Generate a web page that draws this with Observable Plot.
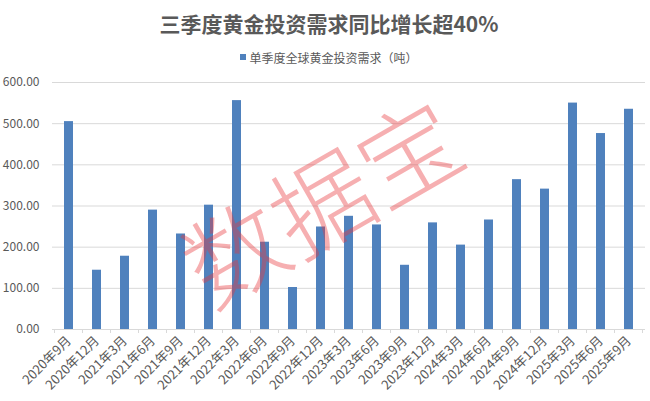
<!DOCTYPE html>
<html>
<head>
<meta charset="utf-8">
<script src="https://cdn.jsdelivr.net/npm/d3@7"></script>
<script src="https://cdn.jsdelivr.net/npm/@observablehq/plot@0.6"></script>
<style>
  body { margin: 0; background: #fff; font-family: "Noto Sans CJK SC", "Microsoft YaHei", sans-serif; }
  #wrap { width: 650px; }
  #title { height: 46px; line-height: 46px; text-align: center; font-size: 21px; font-weight: bold; color: #595959; padding-left: 8px; box-sizing: border-box; white-space: nowrap; }
  #legend { height: 22px; display: flex; justify-content: center; align-items: center; padding-left: 8px; box-sizing: border-box; font-size: 12px; color: #595959; }
  #legend .sw { width: 6px; height: 6px; background: #4f81bd; margin-right: 3px; }
  svg { display: block; }
</style>
</head>
<body>
<div id="wrap">
  <div id="title"></div>
  <div id="legend"><span class="sw"></span><span id="legendText"></span></div>
  <div id="chart"></div>
</div>
<script>
const titleText = "三季度黄金投资需求同比增长超40%";
const seriesName = "单季度全球黄金投资需求（吨）";
const watermark = "数据宝";
const categories = ["2020年9月","2020年12月","2021年3月","2021年6月","2021年9月","2021年12月","2022年3月","2022年6月","2022年9月","2022年12月","2023年3月","2023年6月","2023年9月","2023年12月","2024年3月","2024年6月","2024年9月","2024年12月","2025年3月","2025年6月","2025年9月"];
const values = [505, 144, 178, 290, 232, 302, 556, 212, 102, 249, 275, 254, 156, 259, 205, 266, 364, 341, 550, 476, 535];
const yTicks = [0, 100, 200, 300, 400, 500, 600];

document.getElementById("title").textContent = titleText;
document.getElementById("legendText").textContent = seriesName;

const data = categories.map((c, i) => ({period: c, value: values[i]}));
const fontFamily = '"Noto Sans CJK SC", "Microsoft YaHei", sans-serif';

const plot = Plot.plot({
  width: 650,
  height: 333,
  marginTop: 14,
  marginBottom: 72,
  marginLeft: 52,
  marginRight: 5,
  style: {fontFamily, fontSize: "12px", color: "#595959", background: "#fff"},
  x: {domain: categories, paddingInner: 0.69, paddingOuter: 0.345, label: null},
  y: {domain: [0, 600], label: null},
  marks: [
    Plot.gridY(yTicks, {stroke: "#d9d9d9", strokeOpacity: 1}),
    Plot.barY(data, {x: "period", y: "value", fill: "#4f81bd"}),
    Plot.axisY(yTicks, {tickSize: 0, tickPadding: 13, tickFormat: d => d.toFixed(2), fill: "#595959", fontSize: 12}),
    Plot.axisX({tickSize: 0, tickRotate: -45, tickPadding: 9, fill: "#595959", fontSize: 13}),
    Plot.text([watermark], {frameAnchor: "middle", text: d => d, rotate: -30, fontSize: 100, fill: "#e8383d", fillOpacity: 0.4, dx: -24, dy: 2, fontWeight: 300})
  ]
});

// category boundary tick marks on the x axis, placed with the plot's own scales
const xs = plot.scale("x");
const ys = plot.scale("y");
const gap = (xs.step - xs.bandwidth) / 2;
const y0 = ys.apply(0);
const bounds = categories.map(c => xs.apply(c) - gap);
bounds.push(xs.apply(categories[categories.length - 1]) + xs.bandwidth + gap);
const g = d3.select(plot).append("g").attr("stroke", "#d9d9d9");
g.selectAll("line").data(bounds).join("line")
  .attr("x1", d => d).attr("x2", d => d)
  .attr("y1", y0).attr("y2", y0 + 4);

document.getElementById("chart").append(plot);
</script>
</body>
</html>
